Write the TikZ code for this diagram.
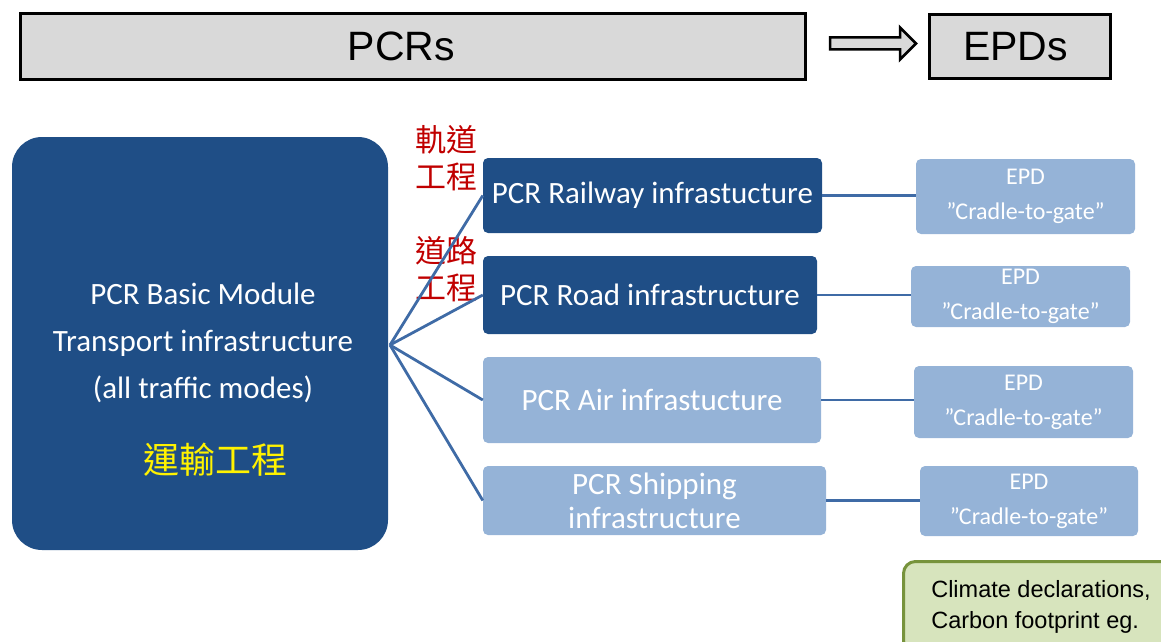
\documentclass[tikz,border=0pt]{standalone}
\usepackage{fontspec}
\setmainfont{Carlito}
\newfontfamily\arial{Liberation Sans}
\newfontfamily\cjk{Noto Sans CJK TC}
\definecolor{azulosc}{HTML}{1F4E86}
\definecolor{azulcla}{HTML}{95B3D7}
\definecolor{linea}{HTML}{3F6BA6}
\definecolor{gris}{HTML}{D9D9D9}
\definecolor{verdecla}{HTML}{D7E4BD}
\definecolor{verdeosc}{HTML}{77933C}
\definecolor{rojo}{HTML}{C00000}

\begin{document}
\begin{tikzpicture}[x=1pt, y=-1pt,
	cabecera/.style={draw=black, fill=gris, line width=3pt, inner sep=0pt, font=\arial\fontsize{41}{41}\selectfont},
	modulo/.style={fill=azulosc, rounded corners=30pt, minimum width=376pt, minimum height=413pt, inner sep=0pt},
	pcrosc/.style={fill=azulosc, text=white, rounded corners=5pt, inner sep=0pt, align=center, font=\fontsize{31}{34}\selectfont},
	pcrcla/.style={pcrosc, fill=azulcla},
	epd/.style={fill=azulcla, text=white, rounded corners=5pt, inner sep=0pt, minimum width=219pt, align=center, font=\fontsize{24}{35}\selectfont},
	rama/.style={draw=linea, line width=2.8pt},
	etiqueta/.style={text=rojo, align=center, inner sep=0pt, font=\cjk\fontsize{31}{37}\selectfont}
	]
	\useasboundingbox (0,0) rectangle (1161,642);
	\clip (0,0) rectangle (1161,642);

	%Cabecera
	\node[cabecera, minimum width=785pt, minimum height=65pt] (pcrs) at (412.5,46.5) {\hspace*{-22pt}PCRs};
	\node[cabecera, minimum width=181pt, minimum height=63pt] (epds) at (1019.5,46.5) {\hspace*{-8pt}EPDs};
	%Flecha hueca
	\draw[draw=black, fill=gris, line width=2.5pt, miter limit=20] (830,37.5) -- (900,37.5) -- (900,27.5) -- (916,43.5) -- (900,59.5) -- (900,49.5) -- (830,49.5) -- cycle;

	%Modulo basico
	\node[modulo] (basico) at (200,343.5) {};
	\node[text=white, align=center, font=\fontsize{31}{47}\selectfont] (textobasico) at (203,343) {PCR Basic Module\\Transport infrastructure\\(all traffic modes)};
	\node[text=yellow, font=\cjk\fontsize{36}{36}\selectfont] (transporte) at (215,460) {運輸工程};
	\coordinate (abanico) at (390,345);

	%PCR por modo
	\node[pcrosc, minimum width=339pt, minimum height=75pt] (rail) at (652.5,195.5) {PCR Railway infrastucture};
	\node[pcrosc, minimum width=334pt, minimum height=78pt] (road) at (650,295) {PCR Road infrastructure};
	\node[pcrcla, minimum width=338pt, minimum height=86pt] (air) at (652,400) {PCR Air infrastucture};
	\node[pcrcla, minimum width=343pt, minimum height=69pt] (ship) at (654.5,500.5) {PCR Shipping\\infrastructure};

	%Etiquetas
	\node[etiqueta] (ferro) at (446,158) {軌道\\工程};
	\node[etiqueta] (vial) at (446,269) {道路\\工程};

	%EPD
	\node[epd, minimum height=75pt] (e1) at (1025.5,196.5) {EPD\\”Cradle-to-gate”};
	\node[epd, minimum height=61pt] (e2) at (1020.5,296.5) {EPD\\”Cradle-to-gate”};
	\node[epd, minimum height=72pt] (e3) at (1023.5,402) {EPD\\”Cradle-to-gate”};
	\node[epd, minimum width=218pt, minimum height=70pt] (e4) at (1029,501) {EPD\\”Cradle-to-gate”};

	%Ramas
	\draw[rama] (abanico) -- (rail.west);
	\draw[rama] (abanico) -- (road.west);
	\draw[rama] (abanico) -- (air.west);
	\draw[rama] (abanico) -- (ship.west);
	\draw[rama] (rail.east) -- (rail.east -| e1.west);
	\draw[rama] (road.east) -- (road.east -| e2.west);
	\draw[rama] (air.east) -- (air.east -| e3.west);
	\draw[rama] (ship.east) -- (ship.east -| e4.west);

	%Clima
	\node[draw=verdeosc, fill=verdecla, line width=3pt, rounded corners=12pt, anchor=north west, minimum width=275pt, minimum height=91pt, inner xsep=25pt, align=left, text=black, font=\arial\fontsize{23.5}{31}\selectfont] (clima) at (902,560) {Climate declarations,\\Carbon footprint eg.};
\end{tikzpicture}
\end{document}
